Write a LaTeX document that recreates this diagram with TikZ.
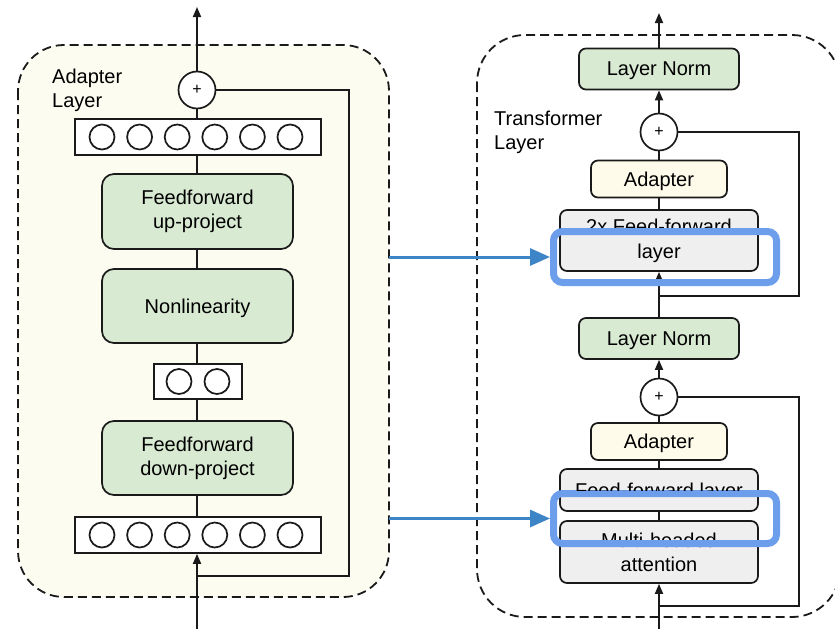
\documentclass[tikz,border=0pt]{standalone}
\usepackage{fontspec}
\setmainfont{Liberation Sans}
\usetikzlibrary{arrows.meta}
\definecolor{boxgreen}{HTML}{D9EAD3}
\definecolor{panelcream}{HTML}{FDFCF0}
\definecolor{adaptcream}{HTML}{FEFBEA}
\definecolor{boxgray}{HTML}{EFEFEF}
\definecolor{linec}{HTML}{1A1A1A}
\definecolor{boxblue}{HTML}{6D9EEB}
\definecolor{arrowblue}{HTML}{3D85C6}
\newcommand{\mainfs}{\fontsize{20}{24}\selectfont}
\begin{document}
\begin{tikzpicture}[x=1pt,y=-1pt,
  panel/.style={draw=linec, dash pattern=on 9pt off 5pt, line width=1.8pt, inner sep=0pt},
  blockbox/.style={draw=linec, line width=1.7pt, rounded corners=12pt, align=center, font=\mainfs, inner sep=0pt, minimum width=191pt},
  greenbox/.style={blockbox, fill=boxgreen},
  graybox/.style={draw=linec, line width=1.7pt, rounded corners=7pt, align=center, font=\mainfs, inner sep=0pt, fill=boxgray, minimum width=198pt},
  normbox/.style={draw=linec, line width=1.7pt, rounded corners=7pt, font=\mainfs, inner sep=0pt, fill=boxgreen, minimum width=160pt, minimum height=41pt, text depth=0pt},
  adaptbox/.style={draw=linec, line width=1.7pt, rounded corners=7pt, font=\mainfs, inner sep=0pt, fill=adaptcream, minimum width=136pt, minimum height=37pt, text depth=0pt},
  vecbox/.style={draw=linec, line width=1.7pt, fill=white, inner sep=0pt, minimum height=36pt},
  unit/.style={circle, draw=linec, line width=1.7pt, minimum size=25pt, inner sep=0pt},
  plusc/.style={circle, draw=linec, line width=1.7pt, fill=white, minimum size=37pt, inner sep=0pt, font=\fontsize{16}{16}\selectfont},
  conn/.style={draw=linec, line width=1.8pt},
  arr/.style={conn, -{Triangle[length=10pt,width=8pt]}},
  bluebox/.style={draw=boxblue, line width=7pt, rounded corners=9pt, minimum width=223pt, inner sep=0pt},
  bluearr/.style={draw=arrowblue, line width=3pt, -{Triangle[length=20pt,width=17pt]}},
  lbl/.style={font=\mainfs, align=left, anchor=west, inner sep=0pt}
]
\useasboundingbox (0,0) rectangle (835,629);

% panels
\draw[panel, fill=panelcream, rounded corners=46pt] (18,45) rectangle (389,597);
\coordinate (aboxE) at (389,321);
\draw[panel, fill=white, rounded corners=48pt] (477,35) rectangle (840,617);

\node[lbl] (adlabel) at (52,90.5) {Adapter\\Layer};
\node[lbl] (trlabel) at (494,132) {Transformer\\Layer};

% ---------- left: adapter layer ----------
\node[plusc] (addplus) at (197,90) {+};
\node[vecbox, minimum width=246pt] (vtop) at (198,137) {};
\node[greenbox, minimum height=75pt] (up) at (197.5,211.5) {Feedforward\\up-project};
\node[greenbox, minimum height=74pt, text depth=0pt] (nonlin) at (197.5,306) {Nonlinearity};
\node[vecbox, minimum width=88pt, minimum height=35pt] (vsmall) at (198,381.5) {};
\node[greenbox, minimum height=74pt] (down) at (197.5,458) {Feedforward\\down-project};
\node[vecbox, minimum width=246pt] (vbot) at (198,535) {};
\foreach \i/\x in {1/102,2/139.6,3/177.2,4/214.8,5/252.4,6/290}{
  \node[unit] (t\i) at (\x,137) {};
  \node[unit] (b\i) at (\x,535) {};
}
\node[unit] (s1) at (179,381.5) {};
\node[unit] (s2) at (217,381.5) {};

\coordinate (outL) at (197,7);
\coordinate (inL) at (197,629);
\coordinate (skipL) at (349,576);
\draw[arr] (addplus.north) -- (outL);
\draw[conn] (vtop.north -| addplus) -- (addplus.south);
\draw[conn] (up.north -| addplus) -- (vtop.south -| addplus);
\draw[conn] (nonlin.north -| addplus) -- (up.south -| addplus);
\draw[conn] (vsmall.north -| addplus) -- (nonlin.south -| addplus);
\draw[conn] (down.north -| addplus) -- (vsmall.south -| addplus);
\draw[conn] (vbot.north -| addplus) -- (down.south -| addplus);
\draw[arr] (inL) -- (vbot.south -| inL);
\draw[conn] (addplus.east) -| (skipL) -- (skipL -| inL);

% ---------- right: transformer layer ----------
\node[normbox] (ln1) at (659,69) {Layer Norm};
\node[plusc] (plus1) at (659,132) {+};
\node[adaptbox] (ad1) at (659,179) {Adapter};
\node[graybox, minimum height=61pt] (ff2) at (659,240.5) {2x Feed-forward\\[1pt]layer};
\node[normbox] (ln2) at (659,338.5) {Layer Norm};
\node[plusc] (plus2) at (659,397) {+};
\node[adaptbox] (ad2) at (659,441.5) {Adapter};
\node[graybox, minimum height=42pt] (ffl) at (659,490) {};
\node[graybox, minimum height=62pt] (mha) at (659,552) {Multi-headed\\attention};

\coordinate (outR) at (659,13);
\coordinate (inR) at (659,629);
\coordinate (skipR1) at (799,296);
\coordinate (skipR2) at (799,606);
\draw[arr] (ln1.north) -- (outR);
\draw[arr] (plus1.north) -- (ln1.south);
\draw[conn] (ad1.north) -- (plus1.south);
\draw[conn] (ff2.north) -- (ad1.south);
\draw[arr] (ln2.north) -- (ff2.south);
\draw[arr] (plus2.north) -- (ln2.south);
\draw[conn] (ad2.north) -- (plus2.south);
\draw[conn] (ffl.north) -- (ad2.south);
\draw[conn] (mha.north) -- (ffl.south);
\draw[arr] (inR) -- (mha.south);
\draw[conn] (plus1.east) -| (skipR1) -- (skipR1 -| ln2.north);
\draw[conn] (plus2.east) -| (skipR2) -- (skipR2 -| mha.south);

% highlight boxes
\node[bluebox, minimum height=51pt] (blue1) at (665,257) {};
\node[bluebox, minimum height=50pt] (blue2) at (665,518.5) {};
\begin{scope}
  \clip (ffl.north west) rectangle (blue2.north -| ffl.east);
  \node[font=\mainfs, inner sep=0pt, text depth=0pt] (ffltext) at (ffl.center) {Feed-forward layer};
\end{scope}
\draw[bluearr] (aboxE |- blue1.west) -- (blue1.west);
\draw[bluearr] (aboxE |- blue2.west) -- (blue2.west);
\end{tikzpicture}
\end{document}
